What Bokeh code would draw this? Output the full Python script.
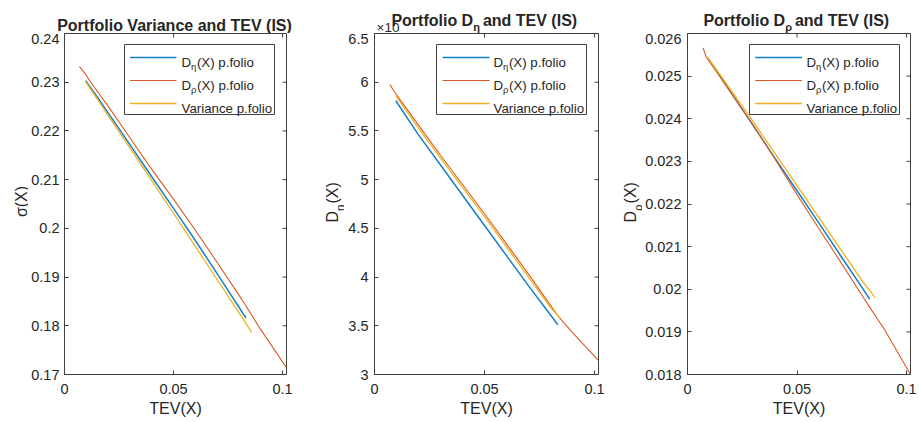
import math
from bokeh.plotting import figure
from bokeh.models import Range1d, Label, BoxAnnotation, FixedTicker
from bokeh.layouts import row, column
from bokeh.embed import file_html
from bokeh.resources import INLINE

# ---------------- data ----------------
x_ticks = [0, 0.05, 0.1]
x_tick_labels = ["0", "0.05", "0.1"]
x_max = 0.1018

# Panel 1: sigma(X) vs TEV(X)
p1_tev_eta = [0.0097, 0.015, 0.020, 0.030, 0.040, 0.050, 0.060, 0.070, 0.0832]
p1_val_eta = [0.2303, 0.2270, 0.2237, 0.2172, 0.2106, 0.2041, 0.1975, 0.1907, 0.1816]
p1_tev_rho = [0.0068, 0.0080, 0.0097, 0.0120, 0.020, 0.030, 0.040, 0.050, 0.060, 0.070, 0.080, 0.083, 0.090, 0.1018]
p1_val_rho = [0.2332, 0.2326, 0.2316, 0.2300, 0.2251, 0.2186, 0.2121, 0.2060, 0.1996, 0.1930, 0.1863, 0.1842, 0.1792, 0.1714]
p1_tev_var = [0.0097, 0.015, 0.020, 0.030, 0.040, 0.050, 0.060, 0.070, 0.080, 0.0859]
p1_val_var = [0.2301, 0.2266, 0.2232, 0.2165, 0.2098, 0.2031, 0.1963, 0.1895, 0.1827, 0.1786]
p1_yticks = [0.17, 0.18, 0.19, 0.2, 0.21, 0.22, 0.23, 0.24]
p1_ylabels = ["0.17", "0.18", "0.19", "0.2", "0.21", "0.22", "0.23", "0.24"]
p1_yrange = (0.17, 0.24)

# Panel 2: D_eta(X) (in units of 1e-4) vs TEV(X)
p2_tev_eta = [0.0097, 0.020, 0.030, 0.040, 0.050, 0.060, 0.070, 0.080, 0.0833]
p2_val_eta = [5.81, 5.46, 5.15, 4.84, 4.53, 4.22, 3.91, 3.61, 3.51]
p2_tev_rho = [0.0070, 0.0085, 0.011, 0.020, 0.030, 0.040, 0.050, 0.060, 0.070, 0.080, 0.0845, 0.090, 0.1018]
p2_val_rho = [5.976, 5.92, 5.84, 5.56, 5.25, 4.95, 4.65, 4.34, 4.03, 3.71, 3.57, 3.43, 3.143]
p2_tev_var = [0.0097, 0.020, 0.030, 0.040, 0.050, 0.060, 0.070, 0.080, 0.0845]
p2_val_var = [5.86, 5.53, 5.22, 4.92, 4.62, 4.31, 4.00, 3.69, 3.575]
p2_yticks = [3, 3.5, 4, 4.5, 5, 5.5, 6, 6.5]
p2_ylabels = ["3", "3.5", "4", "4.5", "5", "5.5", "6", "6.5"]
p2_yrange = (3, 6.5)

# Panel 3: D_rho(X) vs TEV(X)
p3_tev_eta = [0.0094, 0.020, 0.030, 0.040, 0.050, 0.060, 0.070, 0.0832]
p3_val_eta = [0.02541, 0.02460, 0.02384, 0.02307, 0.02231, 0.02155, 0.02078, 0.01977]
p3_tev_rho = [0.0071, 0.0085, 0.012, 0.020, 0.030, 0.040, 0.050, 0.060, 0.070, 0.080, 0.0832, 0.090, 0.1018]
p3_val_rho = [0.02566, 0.02545, 0.02520, 0.02460, 0.02385, 0.02305, 0.02222, 0.02142, 0.02063, 0.01983, 0.019575, 0.01905, 0.01800]
p3_tev_var = [0.0094, 0.020, 0.030, 0.040, 0.050, 0.060, 0.070, 0.080, 0.0856]
p3_val_var = [0.02543, 0.02466, 0.02393, 0.02318, 0.02243, 0.02168, 0.02093, 0.02018, 0.01981]
p3_yticks = [0.018, 0.019, 0.02, 0.021, 0.022, 0.023, 0.024, 0.025, 0.026]
p3_ylabels = ["0.018", "0.019", "0.02", "0.021", "0.022", "0.023", "0.024", "0.025", "0.026"]
p3_yrange = (0.018, 0.026)

legend_names = [("D", "η", "(X) p.folio"), ("D", "ρ", "(X) p.folio"), ("Variance p.folio", "", "")]

# ---------------- style ----------------
FONT = "Liberation Sans"
TXT = "#262626"
AXC = "#404040"
BLUE, ORANGE, YELLOW = "#1580C8", "#DB5A24", "#EDB120"
COLORS = [BLUE, ORANGE, YELLOW]
WIDTHS = [1.5, 1.1, 1.3]
FW, FH = 224, 341
TOP_H = 33          # strip holding the titles
ROW_H = 389         # plots row height
FRAME_BOTTOM = 374  # page y of the bottom of the plot frames
BOTTOM = 48
TICK = 4

REG = {' ': 278, '(': 333, ')': 333, '.': 278, 'D': 722, 'X': 667, 'T': 611, 'E': 667, 'V': 667,
       'I': 278, 'S': 667, 'P': 667, 'a': 556, 'c': 500, 'd': 556, 'e': 556, 'f': 278, 'i': 222,
       'l': 222, 'n': 556, 'o': 556, 'p': 556, 'r': 333, 't': 278, 'η': 556, 'ρ': 570, 'σ': 600,
       '×': 584, '0': 556, '1': 556}
BOLD = {' ': 278, '(': 333, ')': 333, 'D': 722, 'T': 611, 'E': 667, 'V': 667, 'I': 278, 'S': 667,
        'P': 667, 'a': 556, 'c': 556, 'd': 611, 'e': 556, 'f': 333, 'i': 278, 'l': 278, 'n': 611,
        'o': 611, 'r': 389, 't': 333, 'η': 611, 'ρ': 611}


def twidth(s, size, bold=False):
    tab = BOLD if bold else REG
    return sum(tab.get(c, 556) for c in s) * size / 1000.0


def rich(p, pieces, x, y, align="left", angle=0.0, bold=False):
    """pieces: list of (text, font_px, shift_px_below_baseline, extra_advance_px)"""
    total = sum(twidth(pc[0], pc[1], bold) + pc[3] for pc in pieces)
    pos = -total / 2.0 if align == "center" else 0.0
    rot = abs(angle) > 1e-6
    for t, s, sh, extra in pieces:
        if not t:
            continue
        if rot:
            lx, ly = x + sh, y + pos
        else:
            lx, ly = x + pos, y - sh
        p.add_layout(Label(x=lx, y=ly, x_units="screen", y_units="screen", text=t,
                           text_font=FONT, text_font_size=f"{s}px",
                           text_font_style="bold" if bold else "normal",
                           text_color=TXT, text_align="left", text_baseline="alphabetic",
                           angle=angle))
        pos += twidth(t, s, bold) + extra


def text_fig(width, height):
    t = figure(width=width, height=height, x_range=Range1d(0, width), y_range=Range1d(0, height),
               x_axis_type=None, y_axis_type=None, output_backend="svg", toolbar_location=None,
               min_border=0)
    t.title.visible = False
    t.grid.visible = False
    t.outline_line_color = None
    t.background_fill_color = "white"
    t.border_fill_color = "white"
    return t


def make_fig(width, left, right, yr, yticks, ylabels, ystandoff=6):
    p = figure(width=width, height=ROW_H, x_range=Range1d(0, x_max), y_range=Range1d(*yr),
               output_backend="svg", toolbar_location=None,
               min_border_left=left, min_border_right=right, min_border_top=0,
               min_border_bottom=BOTTOM)
    p.title.visible = False
    p.xgrid.visible = False
    p.ygrid.visible = False
    p.outline_line_color = AXC
    p.outline_line_width = 1
    p.outline_line_alpha = 1
    p.background_fill_color = "white"
    p.border_fill_color = "white"
    xa = p.xaxis[0]
    ya = p.yaxis[0]
    xa.ticker = FixedTicker(ticks=x_ticks)
    ya.ticker = FixedTicker(ticks=yticks)
    xa.major_label_overrides = dict(zip(x_ticks, x_tick_labels))
    ya.major_label_overrides = dict(zip(yticks, ylabels))
    for ax in (xa, ya):
        ax.axis_line_color = AXC
        ax.major_tick_line_color = AXC
        ax.major_tick_in = TICK
        ax.major_tick_out = 0
        ax.minor_tick_line_color = None
        ax.major_label_text_font = FONT
        ax.major_label_text_font_size = "14.5px"
        ax.major_label_text_color = TXT
    xa.major_label_standoff = 9
    ya.major_label_standoff = ystandoff
    xa.axis_label = "TEV(X)"
    xa.axis_label_text_font = FONT
    xa.axis_label_text_font_size = "16px"
    xa.axis_label_text_font_style = "normal"
    xa.axis_label_text_color = TXT
    xa.axis_label_standoff = 3
    # mirrored tick marks on the top and right edges of the box
    dy = TICK / FH * (yr[1] - yr[0])
    dx = TICK / FW * x_max
    p.segment(x0=x_ticks, y0=[yr[1]] * len(x_ticks), x1=x_ticks, y1=[yr[1] - dy] * len(x_ticks),
              line_color=AXC, line_width=1)
    p.segment(x0=[x_max] * len(yticks), y0=yticks, x1=[x_max - dx] * len(yticks), y1=yticks,
              line_color=AXC, line_width=1)
    return p


def add_legend(p, yr, box_left):
    bw, top, bottom = 150, 11, 81
    p.add_layout(BoxAnnotation(left=box_left, right=box_left + bw, top=FH - top, bottom=FH - bottom,
                               left_units="screen", right_units="screen", top_units="screen",
                               bottom_units="screen", fill_color="white", fill_alpha=1,
                               line_color=AXC, line_alpha=1, line_width=1))
    items = [24, 47, 70]
    for (main, sub, rest), col, lw, iy in zip(legend_names, COLORS, WIDTHS, items):
        sx0, sx1 = box_left + 6, box_left + 53
        sy = FH - iy
        yv = yr[0] + sy / FH * (yr[1] - yr[0])
        r = p.segment(x0=[sx0 / FW * x_max], y0=[yv], x1=[sx1 / FW * x_max], y1=[yv],
                      line_color=col, line_width=lw)
        r.level = "overlay"
        pieces = [(main, 13.3, 0, 0)]
        if sub:
            pieces += [(sub, 9.5, 4.5, 0.5), (rest, 13.3, 0, 0)]
        rich(p, pieces, box_left + 57, sy - 4.5)


def add_lines(p, data):
    for (xs, ys), col, lw in zip(data, COLORS, WIDTHS):
        p.line(xs, ys, line_color=col, line_width=lw)


# ---- titles strip (page pixels: x from left, y from the strip bottom)
top = text_fig(919, TOP_H)
top.add_layout(Label(x=174, y=TOP_H - 25, x_units="screen", y_units="screen",
                     text="Portfolio Variance and TEV (IS)", text_font=FONT, text_font_size="16px",
                     text_font_style="bold", text_color=TXT, text_align="center",
                     text_baseline="alphabetic"))
top.add_layout(Label(x=376, y=TOP_H - 27, x_units="screen", y_units="screen", text="×10",
                     text_font=FONT, text_font_size="13.5px", text_color=TXT,
                     text_align="left", text_baseline="alphabetic"))
rich(top, [("Portfolio D", 16, 0, 0), ("η", 11, 6.5, 3), (" and TEV (IS)", 16, 0, 0)],
     486, TOP_H - 19.5, align="center", bold=True)
rich(top, [("Portfolio D", 16, 0, 0), ("ρ", 11, 6.5, 3), (" and TEV (IS)", 16, 0, 0)],
     798, TOP_H - 19.5, align="center", bold=True)

# ---- y-label strips (their frames span the same rows as the plot frames)
yl1 = text_fig(28, ROW_H)
yl1.add_layout(Label(x=21, y=FRAME_BOTTOM - 201, x_units="screen", y_units="screen", text="σ(X)",
                     text_font=FONT, text_font_size="16px", text_color=TXT, text_align="center",
                     text_baseline="alphabetic", angle=math.pi / 2))
yl2 = text_fig(35, ROW_H)
rich(yl2, [("D", 16, 0, 0), ("η", 11.5, 7, 1), ("(X)", 16, 0, 0)], 23, FRAME_BOTTOM - 222,
     angle=math.pi / 2)
yl3 = text_fig(32, ROW_H)
rich(yl3, [("D", 16, 0, 0), ("ρ", 11.5, 7, 1), ("(X)", 16, 0, 0)], 20, FRAME_BOTTOM - 222,
     angle=math.pi / 2)

# ---- Panel 1
p1 = make_fig(281, 34, 23, p1_yrange, p1_yticks, p1_ylabels, ystandoff=5)
add_lines(p1, [(p1_tev_eta, p1_val_eta), (p1_tev_rho, p1_val_rho), (p1_tev_var, p1_val_var)])
add_legend(p1, p1_yrange, 60)

# ---- Panel 2
p2 = make_fig(266, 30, 12, p2_yrange, p2_yticks, p2_ylabels)
add_lines(p2, [(p2_tev_eta, p2_val_eta), (p2_tev_rho, p2_val_rho), (p2_tev_var, p2_val_var)])
add_legend(p2, p2_yrange, 62)

# ---- Panel 3
p3 = make_fig(277, 44, 9, p3_yrange, p3_yticks, p3_ylabels)
add_lines(p3, [(p3_tev_eta, p3_val_eta), (p3_tev_rho, p3_val_rho), (p3_tev_var, p3_val_var)])
add_legend(p3, p3_yrange, 62)

layout = column(top, row(yl1, p1, yl2, p2, yl3, p3, spacing=0), spacing=0)
open("out.html", "w").write(file_html(layout, INLINE))
